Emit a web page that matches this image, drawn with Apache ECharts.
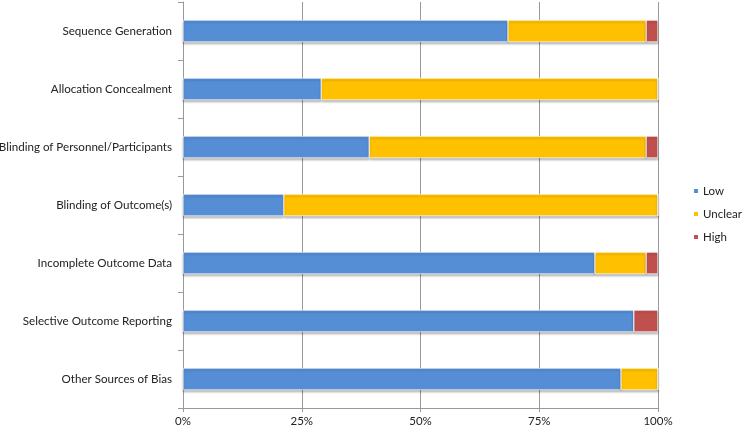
<!DOCTYPE html>
<html><head><meta charset="utf-8">
<script src="https://cdn.jsdelivr.net/npm/echarts@6/dist/echarts.min.js"></script>
<style>html,body{margin:0;padding:0;background:#fff}#c{width:742px;height:430px}</style>
</head><body><div id="c"></div>
<script>
const categories = ["Sequence Generation","Allocation Concealment","Blinding of Personnel/Participants","Blinding of Outcome(s)","Incomplete Outcome Data","Selective Outcome Reporting","Other Sources of Bias"];
const lowValues = [68.4, 29.1, 39.2, 21.2, 86.7, 94.9, 92.2];
const unclearValues = [29.1, 70.9, 58.3, 78.8, 10.8, 0, 7.8];
const highValues = [2.5, 0, 2.5, 0, 2.5, 5.1, 0];
const seriesNames = ["Low","Unclear","High"];
const colors = ["#558ED5","#FFC000","#C0504D"];

const chart = echarts.init(document.getElementById('c'), null, {renderer:'canvas'});
const mk = (name, data, color) => ({
  name, type:'bar', stack:'total', data, barWidth:22,
  itemStyle:{color, borderColor:'#fff', borderWidth:0.6, shadowColor:'rgba(0,0,0,0.25)', shadowOffsetY:2, shadowBlur:2},
  emphasis:{disabled:true}
});
chart.setOption({
  animation:false,
  textStyle:{fontFamily:'Lato, "Open Sans", sans-serif'},
  grid:{left:183, right:84, top:2, bottom:22, containLabel:false, outerBoundsMode:'none'},
  legend:{
    data:seriesNames, orient:'vertical', left:692, top:185, padding:0,
    itemWidth:6, itemHeight:6, itemGap:11, icon:'rect',
    textStyle:{fontSize:11.5, color:'#222', overflow:'none', padding:[0,0,0,-1]}
  },
  xAxis:{
    type:'value', min:0, max:100, interval:25,
    axisLabel:{formatter:'{value}%', fontSize:11.5, color:'#222', margin:7},
    axisLine:{show:true, lineStyle:{color:'#999'}},
    axisTick:{show:true, length:4, lineStyle:{color:'#999'}},
    splitLine:{show:true, lineStyle:{color:'#999', width:1}}
  },
  yAxis:{
    type:'category', data:categories, inverse:true,
    axisLabel:{fontSize:11.6, color:'#222', margin:11},
    axisLine:{show:true, lineStyle:{color:'#999'}},
    axisTick:{show:true, length:5, lineStyle:{color:'#999'}},
    splitLine:{show:false}
  },
  series:[mk(seriesNames[0], lowValues, colors[0]), mk(seriesNames[1], unclearValues, colors[1]), mk(seriesNames[2], highValues, colors[2])]
});
</script></body></html>
